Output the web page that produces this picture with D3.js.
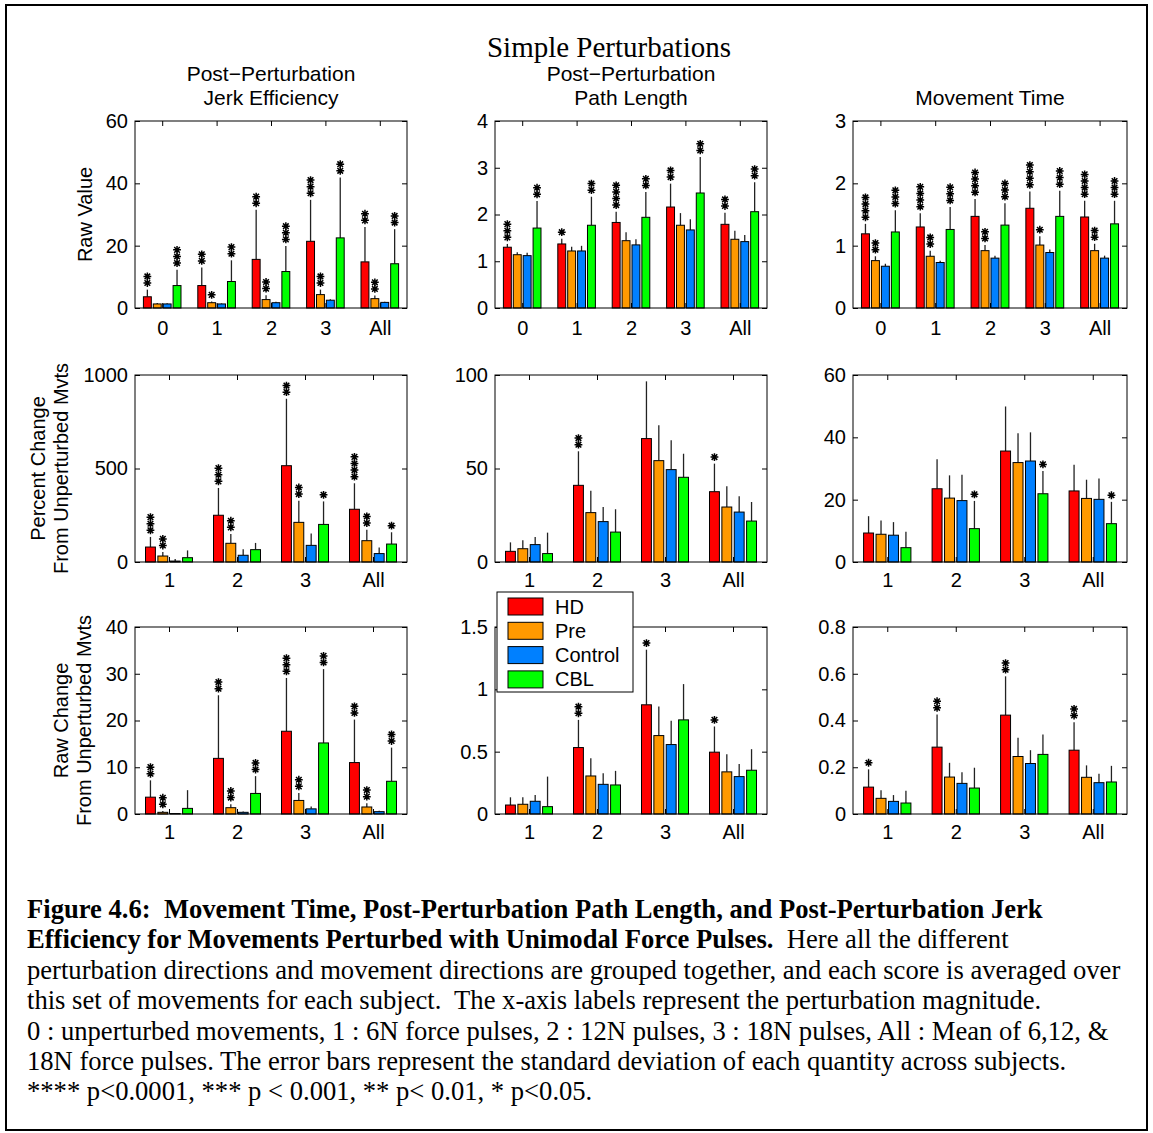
<!DOCTYPE html>
<html><head><meta charset="utf-8">
<script src="https://cdn.jsdelivr.net/npm/d3@7"></script>
<style>
body{margin:0;background:#fff}
svg{display:block}
text{font-family:"Liberation Sans",Arial,sans-serif;fill:#000}
</style>
</head><body>
<svg id="c" width="1153" height="1133"></svg>
<script>
// ---------------- DATA ----------------
const seriesNames = ["HD", "Pre", "Control", "CBL"];
const seriesColors = ["#ff0000", "#ff9900", "#0080ff", "#00ff00"];
const groupsRaw = ["0", "1", "2", "3", "All"];
const groupsChange = ["1", "2", "3", "All"];

// Row 1: raw values (groups 0,1,2,3,All ; series HD,Pre,Control,CBL)
const jerkRawMean = [[3.6,1.3,1.3,7.2],[7.2,1.7,1.3,8.5],[15.6,2.7,1.7,11.7],[21.4,4.3,2.5,22.5],[14.8,3.0,1.8,14.2]];
const jerkRawSD   = [[2.3,0.3,0.2,5.1],[5.8,0.4,0.2,6.8],[15.9,1.4,0.3,8.2],[13.3,1.6,0.3,19.4],[11.2,1.0,0.2,11.1]];
const jerkRawStars= [[2,0,0,3],[2,1,0,2],[2,2,0,3],[3,2,0,2],[2,2,0,2]];
const jerkRawTicks = [0,20,40,60];

const pathRawMean = [[1.30,1.14,1.12,1.71],[1.37,1.22,1.22,1.77],[1.83,1.44,1.35,1.94],[2.16,1.77,1.67,2.46],[1.79,1.47,1.42,2.06]];
const pathRawSD   = [[0.07,0.05,0.06,0.58],[0.11,0.09,0.11,0.61],[0.23,0.18,0.12,0.54],[0.50,0.26,0.23,0.77],[0.25,0.18,0.14,0.63]];
const pathRawStars= [[3,0,0,2],[1,0,0,2],[4,0,0,2],[2,0,0,2],[2,0,0,2]];
const pathRawTicks = [0,1,2,3,4];

const mtRawMean = [[1.19,0.76,0.67,1.22],[1.30,0.83,0.73,1.26],[1.47,0.92,0.80,1.33],[1.60,1.01,0.89,1.47],[1.46,0.92,0.80,1.35]];
const mtRawSD   = [[0.16,0.07,0.04,0.35],[0.22,0.09,0.03,0.36],[0.28,0.09,0.04,0.35],[0.27,0.14,0.05,0.41],[0.26,0.11,0.04,0.37]];
const mtRawStars= [[4,2,0,3],[4,2,0,3],[4,2,0,3],[4,1,0,3],[4,2,0,3]];
const mtRawTicks = [0,1,2,3];

// Row 2: percent change (groups 1,2,3,All)
const jerkPctMean = [[80,32,5,23],[250,100,36,66],[515,212,89,201],[282,114,45,96]];
const jerkPctSD   = [[54,21,11,39],[146,50,32,36],[358,116,64,123],[139,59,33,63]];
const jerkPctStars= [[3,2,0,0],[3,2,0,0],[2,2,0,1],[4,2,0,1]];
const jerkPctTicks = [0,500,1000];

const pathPctMean = [[5.7,7.1,9.3,4.5],[41.0,26.4,21.6,16.0],[66.0,54.2,49.4,45.3],[37.6,29.4,26.7,21.9]];
const pathPctSD   = [[4.8,4.5,4.1,11.2],[18.2,11.7,7.8,12.2],[30.6,18.9,15.7,12.6],[15.0,11.1,8.4,10.2]];
const pathPctStars= [[0,0,0,0],[2,0,0,0],[0,0,0,0],[1,0,0,0]];
const pathPctTicks = [0,50,100];

const mtPctMean = [[9.3,8.9,8.6,4.6],[23.5,20.5,19.7,10.7],[35.6,31.9,32.4,21.9],[22.8,20.4,20.1,12.3]];
const mtPctSD   = [[5.4,4.4,4.2,5.1],[9.5,7.3,8.3,8.9],[14.3,9.4,9.2,7.3],[8.4,6.0,6.7,7.0]];
const mtPctStars= [[0,0,0,0],[0,0,0,1],[0,0,0,1],[0,0,0,1]];
const mtPctTicks = [0,20,40,60];

// Row 3: raw change (groups 1,2,3,All)
const jerkChgMean = [[3.6,0.36,0.1,1.2],[11.9,1.35,0.36,4.4],[17.7,2.9,1.1,15.2],[11.0,1.5,0.5,7.0]];
const jerkChgSD   = [[3.6,0.3,0.1,3.9],[13.5,0.75,0.2,3.7],[11.4,1.6,0.5,15.8],[9.2,0.8,0.2,7.2]];
const jerkChgStars= [[2,2,0,0],[2,2,0,2],[3,2,0,2],[2,2,0,2]];
const jerkChgTicks = [0,10,20,30,40];

const pathChgMean = [[0.072,0.078,0.102,0.059],[0.533,0.305,0.238,0.233],[0.876,0.629,0.557,0.755],[0.496,0.338,0.300,0.351]];
const pathChgSD   = [[0.062,0.056,0.051,0.241],[0.222,0.142,0.089,0.113],[0.442,0.234,0.190,0.287],[0.206,0.141,0.102,0.169]];
const pathChgStars= [[0,0,0,0],[2,0,0,0],[1,0,0,0],[1,0,0,0]];
const pathChgTicks = [0,0.5,1,1.5];

const mtChgMean = [[0.115,0.067,0.054,0.047],[0.286,0.158,0.131,0.111],[0.423,0.246,0.216,0.255],[0.273,0.157,0.134,0.137]];
const mtChgSD   = [[0.076,0.035,0.027,0.053],[0.140,0.061,0.048,0.087],[0.166,0.080,0.057,0.085],[0.120,0.051,0.038,0.069]];
const mtChgStars= [[1,0,0,0],[2,0,0,0],[2,0,0,0],[2,0,0,0]];
const mtChgTicks = [0,0.2,0.4,0.6,0.8];

const figTitle = "Simple Perturbations";
const colTitles = [["Post\u2212Perturbation","Jerk Efficiency"],["Post\u2212Perturbation","Path Length"],["Movement Time"]];
const rowLabels = [["Raw Value"],["Percent Change","From Unperturbed Mvts"],["Raw Change","From Unperturbed Mvts"]];
const captionLines = [
  [["b","Figure 4.6:  Movement Time, Post-Perturbation Path Length, and Post-Perturbation Jerk"]],
  [["b","Efficiency for Movements Perturbed with Unimodal Force Pulses."],["n","  Here all the different"]],
  [["n","perturbation directions and movement directions are grouped together, and each score is averaged over"]],
  [["n","this set of movements for each subject.  The x-axis labels represent the perturbation magnitude."]],
  [["n","0 : unperturbed movements, 1 : 6N force pulses, 2 : 12N pulses, 3 : 18N pulses, All : Mean of 6,12, &"]],
  [["n","18N force pulses. The error bars represent the standard deviation of each quantity across subjects."]],
  [["n","**** p<0.0001, *** p < 0.001, ** p< 0.01, * p<0.05."]]
];

// ---------------- LAYOUT ----------------
const svg = d3.select("#c");
const colX = [[135,407],[495,767],[853,1127]];
const rowY = [[121,308],[375,562],[627,814]];
const xPad = [13,11,11];

const panels = [
  {r:0,c:0,groups:groupsRaw,mean:jerkRawMean,sd:jerkRawSD,stars:jerkRawStars,ticks:jerkRawTicks},
  {r:0,c:1,groups:groupsRaw,mean:pathRawMean,sd:pathRawSD,stars:pathRawStars,ticks:pathRawTicks},
  {r:0,c:2,groups:groupsRaw,mean:mtRawMean,sd:mtRawSD,stars:mtRawStars,ticks:mtRawTicks},
  {r:1,c:0,groups:groupsChange,mean:jerkPctMean,sd:jerkPctSD,stars:jerkPctStars,ticks:jerkPctTicks},
  {r:1,c:1,groups:groupsChange,mean:pathPctMean,sd:pathPctSD,stars:pathPctStars,ticks:pathPctTicks},
  {r:1,c:2,groups:groupsChange,mean:mtPctMean,sd:mtPctSD,stars:mtPctStars,ticks:mtPctTicks},
  {r:2,c:0,groups:groupsChange,mean:jerkChgMean,sd:jerkChgSD,stars:jerkChgStars,ticks:jerkChgTicks},
  {r:2,c:1,groups:groupsChange,mean:pathChgMean,sd:pathChgSD,stars:pathChgStars,ticks:pathChgTicks},
  {r:2,c:2,groups:groupsChange,mean:mtChgMean,sd:mtChgSD,stars:mtChgStars,ticks:mtChgTicks}
];

// outer frame
svg.append("rect").attr("x",6).attr("y",5).attr("width",1141).attr("height",1125)
  .attr("fill","none").attr("stroke","#000").attr("stroke-width",2);

const nS = seriesNames.length;
const groupWidth = Math.min(0.8, nS/(nS+1.5));
const slot = groupWidth/nS;
const starPath = (s)=>`M${-s},0H${s}M0,${-s}V${s}M${-s*0.72},${-s*0.72}L${s*0.72},${s*0.72}M${-s*0.72},${s*0.72}L${s*0.72},${-s*0.72}`;

panels.forEach(p=>{
  const [x0,x1] = colX[p.c], [y0,y1] = rowY[p.r];
  const n = p.groups.length;
  const x = d3.scaleLinear().domain([0.5, n+0.5]).range([x0,x1]);
  const y = d3.scaleLinear().domain([0, d3.max(p.ticks)]).range([y1,y0]);
  const g = svg.append("g");
  const bw = x(1+slot*0.8) - x(1);
  const flat = [];
  p.mean.forEach((row,gi)=>row.forEach((v,si)=>{
    flat.push({gi,si,v,sd:p.sd[gi][si],st:p.stars[gi][si],cx:x(gi+1+(si-(nS-1)/2)*slot)});
  }));
  // error bars
  g.selectAll("line.err").data(flat).join("line")
    .attr("x1",d=>d.cx).attr("x2",d=>d.cx)
    .attr("y1",d=>y(d.v)).attr("y2",d=>y(d.v+d.sd))
    .attr("stroke","#222").attr("stroke-width",1.3);
  // bars
  g.selectAll("rect.bar").data(flat).join("rect")
    .attr("x",d=>d.cx-bw/2).attr("width",bw)
    .attr("y",d=>y(d.v)).attr("height",d=>y(0)-y(d.v))
    .attr("fill",d=>seriesColors[d.si]).attr("stroke","#000").attr("stroke-width",1);
  // significance stars
  flat.forEach(d=>{
    for(let k=0;k<d.st;k++){
      g.append("path").attr("d",starPath(3.9))
        .attr("transform",`translate(${d.cx},${y(d.v+d.sd)-6.6*(k+1)})`)
        .attr("stroke","#000").attr("stroke-width",1.5).attr("fill","none");
    }
  });
  // axes
  const fmt = d=>String(d);
  const ax = (gen,tx,ty,labels)=>{
    const a = svg.append("g").attr("transform",`translate(${tx},${ty})`).call(gen);
    a.select(".domain").remove();
    a.selectAll("line").attr("stroke","#000");
    a.selectAll("text").attr("font-size",20).attr("font-family","Liberation Sans, Arial, sans-serif");
    if(!labels) a.selectAll("text").remove();
    return a;
  };
  ax(d3.axisLeft(y).tickValues(p.ticks).tickFormat(fmt).tickSizeInner(-5).tickSizeOuter(0).tickPadding(7), x0,0,true);
  ax(d3.axisRight(y).tickValues(p.ticks).tickSizeInner(-5).tickSizeOuter(0), x1,0,false);
  const xb = ax(d3.axisBottom(x).tickValues(d3.range(1,n+1)).tickFormat((d,i)=>p.groups[i]).tickSizeInner(-5).tickSizeOuter(0).tickPadding(xPad[p.r]), 0,y1,true);
  xb.selectAll("text").attr("dy","0.71em");
  ax(d3.axisTop(x).tickValues(d3.range(1,n+1)).tickSizeInner(-5).tickSizeOuter(0), 0,y0,false);
  svg.append("rect").attr("x",x0).attr("y",y0).attr("width",x1-x0).attr("height",y1-y0)
    .attr("fill","none").attr("stroke","#000").attr("stroke-width",1);
});

// titles
svg.append("text").attr("x",609).attr("y",57).attr("text-anchor","middle")
  .attr("font-size",29).style("font-family","Liberation Serif, Times New Roman, serif").text(figTitle);
colTitles.forEach((lines,c)=>{
  const cx = (colX[c][0]+colX[c][1])/2;
  lines.forEach((t,i)=>{
    const yy = 105 - (lines.length-1-i)*24;
    svg.append("text").attr("x",cx).attr("y",yy).attr("text-anchor","middle").attr("font-size",21).text(t);
  });
});
// row labels
const rowLabelX = [[85],[38,61],[61,84]];
rowLabels.forEach((lines,r)=>{
  const cy = (rowY[r][0]+rowY[r][1])/2;
  lines.forEach((t,i)=>{
    svg.append("text").attr("transform",`translate(${rowLabelX[r][i]},${cy}) rotate(-90)`)
      .attr("text-anchor","middle").attr("dy","0.35em").attr("font-size",20).text(t);
  });
});

// legend
const lg = svg.append("g").attr("transform","translate(497,592)");
lg.append("rect").attr("width",136).attr("height",100).attr("fill","#fff").attr("stroke","#000").attr("stroke-width",1);
seriesNames.forEach((s,i)=>{
  lg.append("rect").attr("x",11).attr("y",6+i*24.3).attr("width",35).attr("height",17)
    .attr("fill",seriesColors[i]).attr("stroke","#000");
  lg.append("text").attr("x",58).attr("y",14.5+i*24.3).attr("dy","0.35em").attr("font-size",20).text(s);
});

// caption
captionLines.forEach((segs,i)=>{
  const t = svg.append("text").attr("x",27).attr("y",918+i*30.4)
    .style("font-family","Liberation Serif, Times New Roman, serif").style("white-space","pre").attr("font-size",26.6);
  segs.forEach(([w,s])=>{
    t.append("tspan").attr("font-weight",w==="b"?"bold":"normal").text(s);
  });
});
</script>
</body></html>
